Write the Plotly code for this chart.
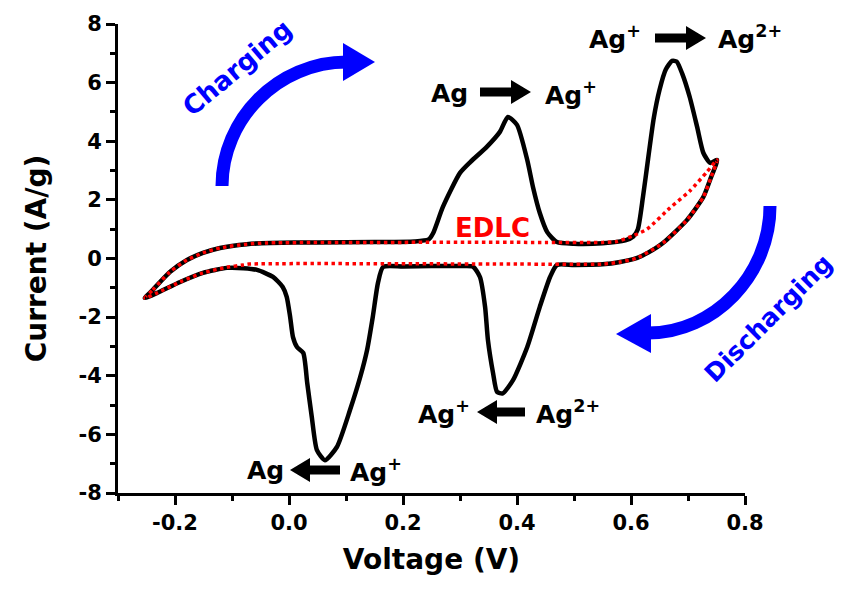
import plotly.graph_objects as go

# ---------------- data ----------------
cv_voltage = [
    -0.253, -0.239, -0.209, -0.179, -0.151, -0.121, -0.074, -0.033, 0.05, 0.15, 0.22, 0.245,
    0.253, 0.270, 0.300, 0.318, 0.347, 0.370, 0.384, 0.400, 0.418, 0.428, 0.440, 0.453,
    0.470, 0.50, 0.55, 0.59, 0.604, 0.612, 0.621, 0.630, 0.640, 0.650, 0.661, 0.672,
    0.680, 0.690, 0.703, 0.716, 0.727, 0.739, 0.751,
    0.740, 0.727, 0.698, 0.656, 0.63, 0.611, 0.581, 0.55, 0.50, 0.470, 0.458, 0.440,
    0.418, 0.393, 0.375, 0.365, 0.358, 0.349, 0.344, 0.335, 0.323, 0.30, 0.25, 0.20,
    0.165, 0.156, 0.147, 0.137, 0.125, 0.107, 0.084, 0.063, 0.049, 0.040, 0.032, 0.025,
    0.014, 0.007, 0.002, -0.004, -0.011, -0.028, -0.056, -0.080, -0.109, -0.151, -0.191,
    -0.232, -0.253,
]
cv_current = [
    -1.35, -1.07, -0.46, -0.05, 0.19, 0.36, 0.49, 0.53, 0.55, 0.56, 0.58, 0.65,
    0.87, 1.76, 2.92, 3.29, 3.81, 4.32, 4.83, 4.56, 3.36, 2.44, 1.55, 0.90,
    0.56, 0.50, 0.52, 0.62, 0.75, 1.00, 2.10, 3.40, 4.80, 5.75, 6.45, 6.74,
    6.72, 6.30, 5.51, 4.49, 3.60, 3.26, 3.36,
    2.75, 2.10, 1.31, 0.53, 0.20, 0.02, -0.12, -0.20, -0.22, -0.22, -0.63, -1.65,
    -3.02, -4.15, -4.60, -4.55, -3.91, -2.78, -1.65, -0.63, -0.28, -0.26, -0.26, -0.27,
    -0.29, -0.84, -1.99, -3.12, -4.04, -5.17, -6.43, -6.88, -6.54, -5.41, -4.25, -3.22,
    -3.02, -2.68, -1.99, -1.31, -0.97, -0.63, -0.39, -0.33, -0.32, -0.49, -0.80,
    -1.18, -1.35,
]

edlc_voltage = [
    -0.253, -0.239, -0.209, -0.179, -0.151, -0.121, -0.074, -0.040, 0.20, 0.45, 0.55, 0.575,
    0.604, 0.628, 0.668, 0.703, 0.733, 0.751,
    0.740, 0.727, 0.698, 0.656, 0.611, 0.581, 0.55, 0.40, -0.070, -0.080, -0.109, -0.151,
    -0.191, -0.232, -0.253,
]
edlc_current = [
    -1.35, -1.07, -0.46, -0.05, 0.19, 0.36, 0.49, 0.53, 0.55, 0.55, 0.55, 0.58,
    0.78, 1.00, 1.72, 2.30, 2.95, 3.36,
    2.75, 2.10, 1.31, 0.53, 0.02, -0.12, -0.19, -0.19, -0.19, -0.22, -0.30, -0.49,
    -0.80, -1.18, -1.35,
]

x_tick_vals = [-0.2, 0.0, 0.2, 0.4, 0.6, 0.8]
x_tick_text = ["-0.2", "0.0", "0.2", "0.4", "0.6", "0.8"]
x_minor_vals = [-0.3, -0.1, 0.1, 0.3, 0.5, 0.7]
y_tick_vals = [-8, -6, -4, -2, 0, 2, 4, 6, 8]
y_tick_text = ["-8", "-6", "-4", "-2", "0", "2", "4", "6", "8"]
y_minor_vals = [-7, -5, -3, -1, 1, 3, 5, 7]

# ---------------- layout helpers (pixel -> paper) ----------------
W, H = 847, 590
ML, MR, MT, MB = 118, 102, 24, 97
PW, PH = W - ML - MR, H - MT - MB


def PX(px):
    return (px - ML) / PW


def PY(py):
    return (H - MB - py) / PH


def poly(points):
    s = "M " + " L ".join(f"{PX(a):.5f},{PY(b):.5f}" for a, b in points) + " Z"
    return s


def arrow_poly(x_tail, x_tip, yc, shaft=4.5, head_len=20, head_half=12):
    d = 1 if x_tip > x_tail else -1
    hb = x_tip - d * head_len
    pts = [(x_tail, yc - shaft), (hb, yc - shaft), (hb, yc - head_half), (x_tip, yc),
           (hb, yc + head_half), (hb, yc + shaft), (x_tail, yc + shaft)]
    return poly(pts)


FONT = "DejaVu Sans"

fig = go.Figure()
fig.add_trace(go.Scatter(x=cv_voltage, y=cv_current, mode="lines",
                         line=dict(color="black", width=4.5, shape="spline", smoothing=0.6),
                         showlegend=False, hoverinfo="skip"))
fig.add_trace(go.Scatter(x=edlc_voltage, y=edlc_current, mode="lines",
                         line=dict(color="#ff0000", width=3.5, dash="3.5px,3.5px",
                                   shape="spline", smoothing=0.6),
                         showlegend=False, hoverinfo="skip"))

shapes = []
# black reaction arrows
for tail, tip, yc in [(655, 706, 38), (480, 531, 92), (525, 477, 412), (340, 290, 470)]:
    shapes.append(dict(type="path", xref="paper", yref="paper", path=arrow_poly(tail, tip, yc),
                       fillcolor="black", line=dict(width=0), layer="above"))


def pt(a, b):
    return f"{PX(a):.5f},{PY(b):.5f}"


# blue curved arrows
shapes.append(dict(type="path", xref="paper", yref="paper",
                   path=f"M {pt(222,186)} C {pt(222,119)} {pt(278,62)} {pt(347,62)}",
                   line=dict(color="#0000ff", width=13), fillcolor="rgba(0,0,0,0)"))
shapes.append(dict(type="path", xref="paper", yref="paper",
                   path=poly([(343, 43), (375, 62), (343, 81)]),
                   fillcolor="#0000ff", line=dict(width=0)))
shapes.append(dict(type="path", xref="paper", yref="paper",
                   path=f"M {pt(770,206)} C {pt(770,275)} {pt(714,333)} {pt(648,333)}",
                   line=dict(color="#0000ff", width=13), fillcolor="rgba(0,0,0,0)"))
shapes.append(dict(type="path", xref="paper", yref="paper",
                   path=poly([(651, 314), (616, 334), (651, 353)]),
                   fillcolor="#0000ff", line=dict(width=0)))

annotations = []


def label(text, cx, cy, size=25, color="black", angle=0):
    annotations.append(dict(text=text, x=PX(cx), y=PY(cy), xref="paper", yref="paper",
                            xanchor="center", yanchor="middle", showarrow=False,
                            textangle=angle,
                            font=dict(family=FONT, size=size, color=color, weight="bold")))


label("Ag<sup>+</sup>", 615, 38)
label("Ag<sup>2+</sup>", 750, 38)
label("Ag", 449, 93)
label("Ag<sup>+</sup>", 571, 93)
label("Ag<sup>+</sup>", 444, 412)
label("Ag<sup>2+</sup>", 568, 412)
label("Ag", 265, 470)
label("Ag<sup>+</sup>", 376, 470)
label("EDLC", 492, 228, size=26, color="#ff0000")
label("Charging", 237, 68, size=26, color="#0000ff", angle=-40)
label("Discharging", 768, 318, size=25, color="#0000ff", angle=-45)

axis_font = dict(family=FONT, size=21, color="black", weight="bold")
title_font = dict(family=FONT, size=28, color="black", weight="bold")

fig.update_layout(
    width=W, height=H,
    margin=dict(l=ML, r=MR, t=MT, b=MB),
    paper_bgcolor="white", plot_bgcolor="white",
    showlegend=False,
    shapes=shapes, annotations=annotations,
    xaxis=dict(range=[-0.3, 0.8], tickvals=x_tick_vals, ticktext=x_tick_text,
               showgrid=False, zeroline=False, showline=True, linecolor="black", linewidth=3,
               ticks="outside", ticklen=9, tickwidth=3, tickcolor="black",
               tickfont=axis_font,
               minor=dict(tickvals=x_minor_vals, ticks="outside", ticklen=5, tickwidth=3,
                          tickcolor="black", showgrid=False),
               title=dict(text="Voltage (V)", font=title_font, standoff=16)),
    yaxis=dict(range=[-8, 8], tickvals=y_tick_vals, ticktext=y_tick_text,
               showgrid=False, zeroline=False, showline=True, linecolor="black", linewidth=3,
               ticks="outside", ticklen=9, tickwidth=3, tickcolor="black",
               tickfont=axis_font,
               minor=dict(tickvals=y_minor_vals, ticks="outside", ticklen=5, tickwidth=3,
                          tickcolor="black", showgrid=False),
               title=dict(text="Current (A/g)", font=title_font, standoff=24)),
)

fig.write_html("out.html")
